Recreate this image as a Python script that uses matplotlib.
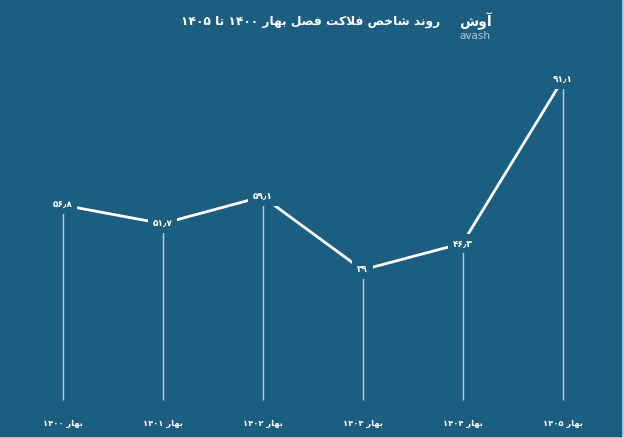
import matplotlib
matplotlib.use("Agg")
import matplotlib.pyplot as plt
from matplotlib.lines import Line2D

# data
quarters = ["بهار ۱۴۰۰", "بهار ۱۴۰۱", "بهار ۱۴۰۲", "بهار ۱۴۰۳", "بهار ۱۴۰۴", "بهار ۱۴۰۵"]
values = [56.8, 51.7, 59.1, 39, 46.3, 91.1]
title = "روند شاخص فلاکت فصل بهار ۱۴۰۰ تا ۱۴۰۵"
logo_fa = "آوش"
logo_en = "avash"

bg = "#1b5e7f"

# minimal persian shaping (matplotlib has no bidi / shaping of its own)
forms = {
    "ا": ("\ufe8d", "\ufe8e", None, None),
    "آ": ("\ufe81", "\ufe82", None, None),
    "ب": ("\ufe8f", "\ufe90", "\ufe91", "\ufe92"),
    "ت": ("\ufe95", "\ufe96", "\ufe97", "\ufe98"),
    "خ": ("\ufea5", "\ufea6", "\ufea7", "\ufea8"),
    "د": ("\ufea9", "\ufeaa", None, None),
    "ر": ("\ufead", "\ufeae", None, None),
    "ش": ("\ufeb5", "\ufeb6", "\ufeb7", "\ufeb8"),
    "ص": ("\ufeb9", "\ufeba", "\ufebb", "\ufebc"),
    "ف": ("\ufed1", "\ufed2", "\ufed3", "\ufed4"),
    "ک": ("\ufb8e", "\ufb8f", "\ufb90", "\ufb91"),
    "ل": ("\ufedd", "\ufede", "\ufedf", "\ufee0"),
    "ن": ("\ufee5", "\ufee6", "\ufee7", "\ufee8"),
    "ه": ("\ufee9", "\ufeea", "\ufeeb", "\ufeec"),
    "و": ("\ufeed", "\ufeee", None, None),
}


def dual(c):
    return c in forms and forms[c][2] is not None


def shape_word(w):
    out = []
    i = 0
    while i < len(w):
        c = w[i]
        prev = w[i - 1] if i > 0 else None
        joined = prev is not None and dual(prev)
        if c == "ل" and i + 1 < len(w) and w[i + 1] == "ا":
            out.append("\ufefc" if joined else "\ufefb")
            i += 2
            continue
        if c not in forms:
            out.append(c)
            i += 1
            continue
        nxt = w[i + 1] if i + 1 < len(w) else None
        to_next = dual(c) and nxt in forms
        f = forms[c]
        if joined and to_next:
            out.append(f[3])
        elif joined:
            out.append(f[1])
        elif to_next:
            out.append(f[2])
        else:
            out.append(f[0])
        i += 1
    return "".join(reversed(out))


def fa(text):
    words = []
    for w in text.split(" "):
        if any(ch in forms for ch in w):
            words.append(shape_word(w))
        else:
            words.append(w)
    return " ".join(reversed(words))


def fa_num(v):
    s = ("%g" % v).replace(".", "٫")
    return s.translate(str.maketrans("0123456789", "۰۱۲۳۴۵۶۷۸۹"))


fig = plt.figure(figsize=(6.24, 4.38), dpi=100, facecolor=bg)
# plot area: top edge at the highest point (y=80px), bottom where the drop lines stop (y=400px)
ax = fig.add_axes([62.5 / 624, 38 / 438, 500 / 624, 320 / 438])
ax.set_facecolor(bg)
ax.set_xlim(0, len(values) - 1)
ax.set_ylim(3.3, max(values))
ax.axis("off")

x = list(range(len(values)))
base = ax.get_ylim()[0]

# drop lines
for xi, v in zip(x, values):
    ax.plot([xi, xi], [base, v], color="#b4cfdc", lw=1, zorder=1,
            solid_capstyle="butt", snap=True, clip_on=False)

ax.plot(x, values, color="white", lw=2, zorder=2, clip_on=False)

for xi, v in zip(x, values):
    ax.text(xi, v, fa_num(v), ha="center", va="center", color="white",
            fontsize=6.5, fontweight="bold", family="DejaVu Sans", zorder=3,
            bbox=dict(boxstyle="square,pad=0.55", fc=bg, ec="none"))

# quarter labels under the plot area
for xi, q in zip(x, quarters):
    ax.annotate(fa(q), (xi, base), xytext=(0, -24), textcoords="offset pixels",
                ha="center", va="center", color="white", fontsize=6,
                fontweight="bold", family="DejaVu Sans", annotation_clip=False)

fig.text(311 / 624, 1 - 22 / 438, fa(title), ha="center", va="center",
         color="white", fontsize=8.8, fontweight="bold", family="DejaVu Sans")
fig.text(475 / 624, 1 - 21 / 438, fa(logo_fa), ha="center", va="center",
         color="white", fontsize=10, fontweight="bold", family="DejaVu Sans")
fig.text(475 / 624, 1 - 36 / 438, logo_en, ha="center", va="center",
         color="#b8c8d2", fontsize=7.5, family="DejaVu Sans")

# light frame on the right and bottom edges
fig.add_artist(Line2D([0, 1], [0.001, 0.001], transform=fig.transFigure, color="#a8d4e6", lw=2))
fig.add_artist(Line2D([0.999, 0.999], [0, 1], transform=fig.transFigure, color="#a8d4e6", lw=2))

fig.savefig("out.png", dpi=100, facecolor=bg)
